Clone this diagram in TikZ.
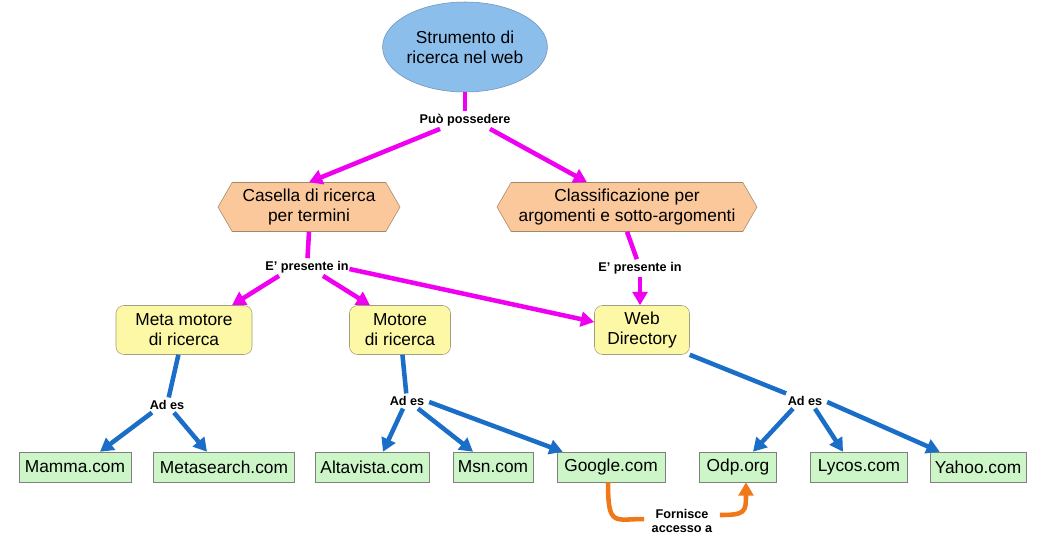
\documentclass[tikz,border=0pt]{standalone}
\usepackage{fontspec}
\setmainfont{Liberation Sans}
\usetikzlibrary{shapes.geometric,shapes.symbols,arrows.meta,calc}
\definecolor{cellfill}{HTML}{8CBEEB}
\definecolor{cellbord}{HTML}{6F8FB8}
\definecolor{peach}{HTML}{FAC89B}
\definecolor{peachbord}{HTML}{A08868}
\definecolor{yel}{HTML}{FCF8A5}
\definecolor{yelbord}{HTML}{A0A080}
\definecolor{grn}{HTML}{CCF6C8}
\definecolor{grnbord}{HTML}{808080}
\definecolor{mag}{HTML}{F000F0}
\definecolor{blu}{HTML}{1A6EC8}
\definecolor{ora}{HTML}{F07818}
\tikzset{
  txt/.style={font=\fontsize{13}{15}\selectfont, align=center, inner sep=0pt},
  ell/.style={txt, ellipse, draw=cellbord, fill=cellfill, minimum width=114pt, minimum height=67.5pt},
  hexa/.style={txt, signal, signal to=west and east, signal pointer angle=120, draw=peachbord, fill=peach, minimum height=36.75pt},
  ybox/.style={txt, rectangle, rounded corners=6pt, draw=yelbord, fill=yel, minimum height=36.75pt},
  gbox/.style={txt, rectangle, draw=grnbord, fill=grn, minimum height=22.5pt},
  lab/.style={font=\fontsize{9.5}{11}\selectfont\bfseries, align=center, inner sep=2pt},
  magc/.style={draw=mag, line width=3.4pt},
  bluc/.style={draw=blu, line width=3.4pt},
  orac/.style={draw=ora, line width=3.4pt},
  tip/.style={-{Triangle[length=10pt,width=11pt]}},
}
\begin{document}
\begin{tikzpicture}[x=0.75pt,y=-0.75pt]
\fill[white] (0,0) rectangle (1048,536);
\useasboundingbox (0,0) rectangle (1048,536);
% nodes
\node[ell] (top) at (465,47) {Strumento di\\ricerca nel web};
\node[lab] (pp) at (465,120) {Può possedere};
\node[hexa, minimum width=136.5pt] (cas) at (309,207) {Casella di ricerca\\per termini};
\node[hexa, minimum width=195pt] (cla) at (627,207) {Classificazione per\\argomenti e sotto-argomenti};
\node[lab] (ep1) at (307,267) {E' presente in};
\node[lab] (ep2) at (640,268) {E' presente in};
\node[ybox, minimum width=102pt] (meta) at (184,330) {Meta motore\\di ricerca};
\node[ybox, minimum width=75.75pt] (mot) at (400,330) {Motore\\di ricerca};
\node[ybox, minimum width=71.25pt] (web) at (642,330) {Web\\Directory};
\node[lab] (ad1) at (167,405) {Ad es};
\node[lab] (ad2) at (407,401) {Ad es};
\node[lab] (ad3) at (805,401) {Ad es};
\node[gbox, minimum width=84pt] (mamma) at (75,467) {Mamma.com};
\node[gbox, minimum width=105.75pt] (metas) at (224,467) {Metasearch.com};
\node[gbox, minimum width=85.5pt] (alta) at (372,467) {Altavista.com};
\node[gbox, minimum width=60pt] (msn) at (493,467) {Msn.com};
\node[gbox, minimum width=81pt] (goog) at (611,467) {Google.com};
\node[gbox, minimum width=57.75pt] (odp) at (738,467) {Odp.org};
\node[gbox, minimum width=72.75pt] (lyc) at (859,467) {Lycos.com};
\node[gbox, minimum width=72pt] (yah) at (978,467) {Yahoo.com};
\node[lab, inner sep=1pt] (forn) at (682,521) {Fornisce\\accesso a};
% magenta
\draw[magc] (top) -- (pp);
\draw[magc,tip] ($(pp.south)+(-25,0)$) -- ($(cas.north)+(0,0)$);
\draw[magc,tip] ($(pp.south)+(25,0)$) -- ($(cla.north)+(-40,0)$);
\draw[magc] (cas.south) -- (ep1);
\draw[magc] (cla.south) -- (ep2);
\draw[magc,tip] ($(ep1.south)+(-28,0)$) -- ($(meta.north)+(48,0)$);
\draw[magc,tip] ($(ep1.south)+(16,0)$) -- ($(mot.north)+(-30,0)$);
\draw[magc,tip] ($(ep1.east)+(-2,2)$) -- ($(web.west)+(0,-8)$);
\draw[magc,tip] (ep2) -- (web.north -| ep2);
% blue
\draw[bluc] (meta) -- (ad1);
\draw[bluc] (mot) -- (ad2);
\draw[bluc] (web.south east) -- (ad3);
\draw[bluc,tip] ($(ad1.south)+(-15,0)$) -- ($(mamma.north)+(25,0)$);
\draw[bluc,tip] ($(ad1.south)+(7,0)$) -- ($(metas.north)+(-17,0)$);
\draw[bluc,tip] ($(ad2.south)+(-4,0)$) -- ($(alta.north)+(11,0)$);
\draw[bluc,tip] ($(ad2.south)+(11,0)$) -- ($(msn.north)+(-20,0)$);
\draw[bluc,tip] ($(ad2.east)+(2,1)$) -- ($(goog.north west)+(6,0)$);
\draw[bluc,tip] ($(ad3.south)+(-12,0)$) -- ($(odp.north)+(15,0)$);
\draw[bluc,tip] ($(ad3.south)+(10,0)$) -- ($(lyc.north)+(-16,0)$);
\draw[bluc,tip] ($(ad3.east)+(2,1)$) -- ($(yah.north west)+(10,0)$);
% orange
\draw[orac] ($(goog.south)+(-3,0)$) .. controls +(0,45) and +(-30,0) .. ($(forn.west)+(-6,-2)$);
\draw[orac,tip] ($(forn.east)+(6,-6)$) .. controls +(25,0) and +(0,30) .. ($(odp.south)+(8,0)$);
\end{tikzpicture}
\end{document}
